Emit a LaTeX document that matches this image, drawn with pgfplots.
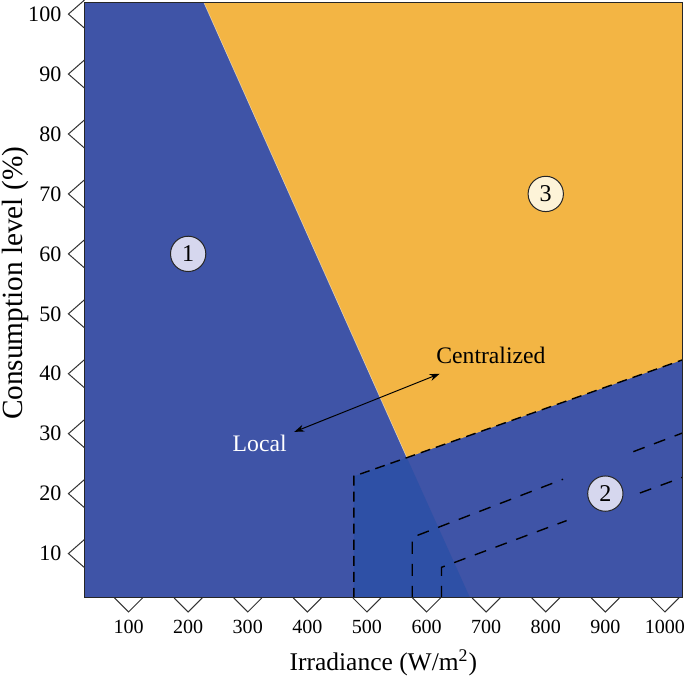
\documentclass[border=0pt]{standalone}
\usepackage{fontspec}
\setmainfont{Liberation Serif}
\usepackage{pgfplots}
\pgfplotsset{compat=1.18}
\usetikzlibrary{arrows.meta}

\definecolor{regblue}{RGB}{63,84,167}
\definecolor{overblue}{RGB}{46,80,166}
\definecolor{regorange}{RGB}{243,181,68}
\definecolor{lav}{RGB}{214,215,238}
\definecolor{cream}{RGB}{253,243,216}

% chevron tick marks
\pgfdeclareplotmark{ychev}{%
  \pgfpathmoveto{\pgfqpoint{0pt}{7pt}}%
  \pgfpathlineto{\pgfqpoint{-8pt}{0pt}}%
  \pgfpathlineto{\pgfqpoint{0pt}{-7pt}}%
  \pgfusepathqstroke}
\pgfdeclareplotmark{xchev}{%
  \pgfpathmoveto{\pgfqpoint{-7pt}{0pt}}%
  \pgfpathlineto{\pgfqpoint{0pt}{-7pt}}%
  \pgfpathlineto{\pgfqpoint{7pt}{0pt}}%
  \pgfusepathqstroke}

\begin{document}
\begin{tikzpicture}
\begin{axis}[
  width=298pt, height=297pt, scale only axis,
  xmin=26, xmax=1029, ymin=2.6, ymax=102,
  xtick={100,200,...,1000}, ytick={10,20,...,100},
  major tick length=0pt,
  clip=false,
  axis line style={black!85, line width=0.5pt},
  axis on top,
  /pgf/number format/assume math mode=true,
  /pgf/number format/1000 sep={},
  yticklabel style={font=\fontsize{11}{13}\selectfont, xshift=-8pt},
  xticklabel style={font=\fontsize{10}{12}\selectfont, inner xsep=0pt, yshift=-7.8pt},
  xlabel={Irradiance (W/m\textsuperscript{2})},
  ylabel={Consumption level (\%)},
  xlabel style={font=\fontsize{12.7}{15}\selectfont, inner sep=0pt},
  ylabel style={font=\fontsize{14.6}{17}\selectfont, inner sep=1pt},
  every axis y label/.append style={at={(ticklabel cs:0.528)}},
  xlabel shift=4.3pt,
  ylabel shift=-4.7pt,
]
% regions
\addplot[fill=regblue, draw=none] coordinates {(26,2.6) (1029,2.6) (1029,102) (26,102)} -- cycle;
\addplot[fill=regorange, draw=none] coordinates {(226,102) (1029,102) (1029,42.3) (567,26)} -- cycle;
\addplot[fill=overblue, draw=none] coordinates {(478,2.6) (478,22.9) (567,26) (673,2.6)} -- cycle;
\addplot[white, line width=0.3pt, opacity=0.5] coordinates {(226,102) (567,26)};
% dashed boundaries
\addplot[black, line width=0.7pt, dash pattern=on 5pt off 3pt] coordinates {(478,2.6) (478,22.9) (567,26) (1029,42.3)};
\addplot[black, line width=0.7pt, dash pattern=on 6pt off 5pt] coordinates {(576,2.6) (576,12.7) (829,22.4)};
\addplot[black, line width=0.7pt, dash pattern=on 6pt off 5pt] coordinates {(947,27.0) (1029,30.1)};
\addplot[black, line width=0.7pt, dash pattern=on 6pt off 5pt] coordinates {(625,2.6) (625,7.7) (835,15.5)};
\addplot[black, line width=0.7pt, dash pattern=on 6pt off 5pt] coordinates {(958,20.1) (1029,22.7)};
% arrow
\addplot[black, line width=0.5pt, {Stealth[length=5pt,width=3.5pt]}-{Stealth[length=5pt,width=3.5pt]}] coordinates {(378,30.3) (622,40)};
\node[font=\fontsize{11.8}{13}\selectfont] at (axis cs:708,43.1) {Centralized};
\node[font=\fontsize{11.8}{13}\selectfont, text=white] at (axis cs:320,28.4) {Local};
% circled region numbers
\addplot[only marks, mark=*, mark size=8.8pt, mark options={fill=lav, draw=black!85, line width=0.5pt},
  nodes near coords={1}, nodes near coords align=center,
  every node near coord/.append style={font=\fontsize{12}{12}\selectfont}] coordinates {(200,60)};
\addplot[only marks, mark=*, mark size=8.8pt, mark options={fill=lav, draw=black!85, line width=0.5pt},
  nodes near coords={2}, nodes near coords align=center,
  every node near coord/.append style={font=\fontsize{12}{12}\selectfont}] coordinates {(900,20)};
\addplot[only marks, mark=*, mark size=8.8pt, mark options={fill=cream, draw=black!85, line width=0.5pt},
  nodes near coords={3}, nodes near coords align=center,
  every node near coord/.append style={font=\fontsize{12}{12}\selectfont}] coordinates {(800,70)};
% chevron ticks
\addplot[only marks, mark=ychev, mark options={black!80, line width=0.5pt}] coordinates {
  (26,10) (26,20) (26,30) (26,40) (26,50) (26,60) (26,70) (26,80) (26,90) (26,100)};
\addplot[only marks, mark=xchev, mark options={black!80, line width=0.5pt}] coordinates {
  (100,2.6) (200,2.6) (300,2.6) (400,2.6) (500,2.6) (600,2.6) (700,2.6) (800,2.6) (900,2.6) (1000,2.6)};
\end{axis}
\end{tikzpicture}
\end{document}
